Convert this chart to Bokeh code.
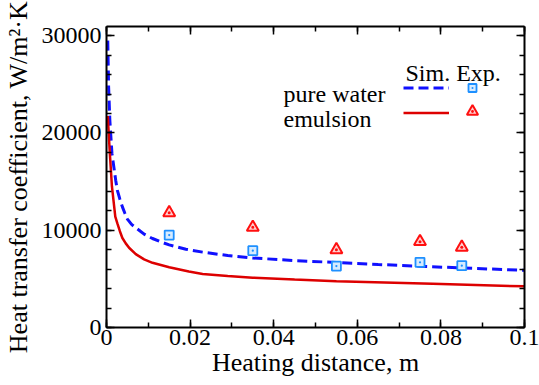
import numpy as np
from bokeh.plotting import figure
from bokeh.models import (Range1d, LinearAxis, FixedTicker, Legend, LegendItem,
                          Label, CustomJSTickFormatter)
from bokeh.embed import file_html
from bokeh.resources import INLINE

# ---- data ----
sim_water_x = [0.0003, 0.0005, 0.0008, 0.0013, 0.0022, 0.0026, 0.0032, 0.0038,
               0.0044, 0.005, 0.006, 0.007, 0.0078, 0.009, 0.011, 0.013, 0.015,
               0.019, 0.023, 0.029, 0.035, 0.045, 0.055, 0.065, 0.075, 0.0875, 0.1]
sim_water_y = [29500, 24800, 21300, 17900, 15150, 14100, 13200, 12400,
               11750, 11150, 10600, 10250, 10000, 9600, 9150, 8800, 8500,
               8050, 7750, 7400, 7150, 6880, 6680, 6480, 6300, 6080, 5880]

sim_emul_x = [0.0003, 0.0008, 0.0013, 0.0021, 0.0026, 0.0032, 0.0038, 0.0046,
              0.0054, 0.007, 0.009, 0.011, 0.015, 0.0197, 0.023, 0.029, 0.035,
              0.045, 0.055, 0.078, 0.1]
sim_emul_y = [21750, 17900, 14500, 11400, 10700, 9900, 9200, 8650,
              8200, 7550, 7000, 6650, 6200, 5750, 5500, 5300, 5120,
              4930, 4760, 4500, 4230]

exp_x = [0.015, 0.035, 0.055, 0.075, 0.085]
exp_water_y = [9500, 7900, 6320, 6700, 6360]
exp_emul_y = [11800, 10300, 8000, 8830, 8250]

x_ticks = [0, 0.02, 0.04, 0.06, 0.08, 0.1]
x_tick_labels = ["0", "0.02", "0.04", "0.06", "0.08", "0.1"]
y_ticks = [0, 10000, 20000, 30000]
y_tick_labels = ["0", "10000", "20000", "30000"]

x_title = "Heating distance, m"
y_title = "Heat transfer coefficient, W/m\u00b2\u00b7K"

FONT = "Liberation Serif"

p = figure(width=539, height=385, output_backend="svg", toolbar_location=None,
           x_range=Range1d(0, 0.1), y_range=Range1d(0, 30950),
           min_border_left=104, min_border_right=15, min_border_top=26,
           min_border_bottom=58)
p.background_fill_color = "white"
p.border_fill_color = "white"
p.outline_line_color = None
p.xgrid.visible = False
p.ygrid.visible = False

x_minor = [round(v, 3) for v in np.arange(0, 0.1001, 0.01)]
y_minor = list(range(0, 31000, 2000))

bottom = p.below[0]
left = p.left[0]
bottom.ticker = FixedTicker(ticks=x_ticks, minor_ticks=x_minor)
left.ticker = FixedTicker(ticks=y_ticks, minor_ticks=y_minor)
bottom.major_label_overrides = {t: l for t, l in zip(x_ticks, x_tick_labels)}
left.major_label_overrides = {t: l for t, l in zip(y_ticks, y_tick_labels)}

top = LinearAxis(ticker=FixedTicker(ticks=x_ticks, minor_ticks=x_minor),
                 formatter=CustomJSTickFormatter(code="return ''"))
right = LinearAxis(ticker=FixedTicker(ticks=y_ticks, minor_ticks=y_minor),
                   formatter=CustomJSTickFormatter(code="return ''"))
p.add_layout(top, "above")
p.add_layout(right, "right")

for ax in [bottom, left, top, right]:
    ax.major_tick_in = 8
    ax.major_tick_out = 0
    ax.minor_tick_in = 5
    ax.minor_tick_out = 0
    ax.axis_line_width = 2
    ax.axis_line_color = "black"
    ax.major_tick_line_width = 1.5
    ax.minor_tick_line_width = 1.5
    ax.major_tick_line_color = "black"
    ax.minor_tick_line_color = "black"
    ax.major_label_text_font = FONT
    ax.major_label_text_font_size = "24px"
    ax.major_label_text_color = "black"

top.major_label_standoff = 0
right.major_label_standoff = 0

bottom.major_label_standoff = 2
left.major_label_standoff = 5

bottom.axis_label = x_title
left.axis_label = y_title
for ax in [bottom, left]:
    ax.axis_label_text_font = FONT
    ax.axis_label_text_font_size = "26px"
    ax.axis_label_text_font_style = "normal"
    ax.axis_label_text_color = "black"
bottom.axis_label_standoff = 0
left.axis_label_standoff = 6

FX0, FY0 = 104, 327  # frame left / bottom in page px (for screen offsets)

# ---- data glyphs ----
r_water = p.line(sim_water_x, sim_water_y, line_color="#1010ff", line_width=3,
                 line_dash="10 5")
r_emul = p.line(sim_emul_x, sim_emul_y, line_color="#dd0000", line_width=2.5)
r_sq = p.scatter(exp_x, exp_water_y, marker="square_dot", size=9,
                 line_color="#1e90ff", fill_color="#d6ebff", line_width=1.8)
r_tri = p.scatter(exp_x, exp_emul_y, marker="triangle_dot", size=12,
                  line_color="#ff1010", fill_color="#ffd0d0", line_width=2)

# ---- custom legend ----
def mk_legend(items, vx, vy, gw, gh):
    lg = Legend(items=items, location=(vx, vy), glyph_width=gw, glyph_height=gh,
                spacing=0, padding=0, margin=0, label_standoff=0, label_width=0,
                label_height=gh, label_text_font_size="12px",
                border_line_alpha=0, background_fill_alpha=0)
    p.add_layout(lg, "center")

mk_legend([LegendItem(label="", renderers=[r_water]),
           LegendItem(label="", renderers=[r_emul])],
          401 - FX0, FY0 - 124.5, 46, 25)
mk_legend([LegendItem(label="", renderers=[r_sq])],
          460 - FX0, FY0 - 99.5, 20, 25)
mk_legend([LegendItem(label="", renderers=[r_tri])],
          456 - FX0, FY0 - 125, 28, 28)

for txt, x, y in [("Sim. Exp.", 403, 72), ("pure water", 281, 93),
                  ("emulsion", 281, 118)]:
    p.add_layout(Label(x=x - FX0, y=FY0 - y, x_units="screen", y_units="screen",
                       text=txt, text_font=FONT, text_font_size="24px",
                       text_align="left", text_baseline="alphabetic",
                       text_color="black"))

open("out.html", "w").write(file_html(p, INLINE))
